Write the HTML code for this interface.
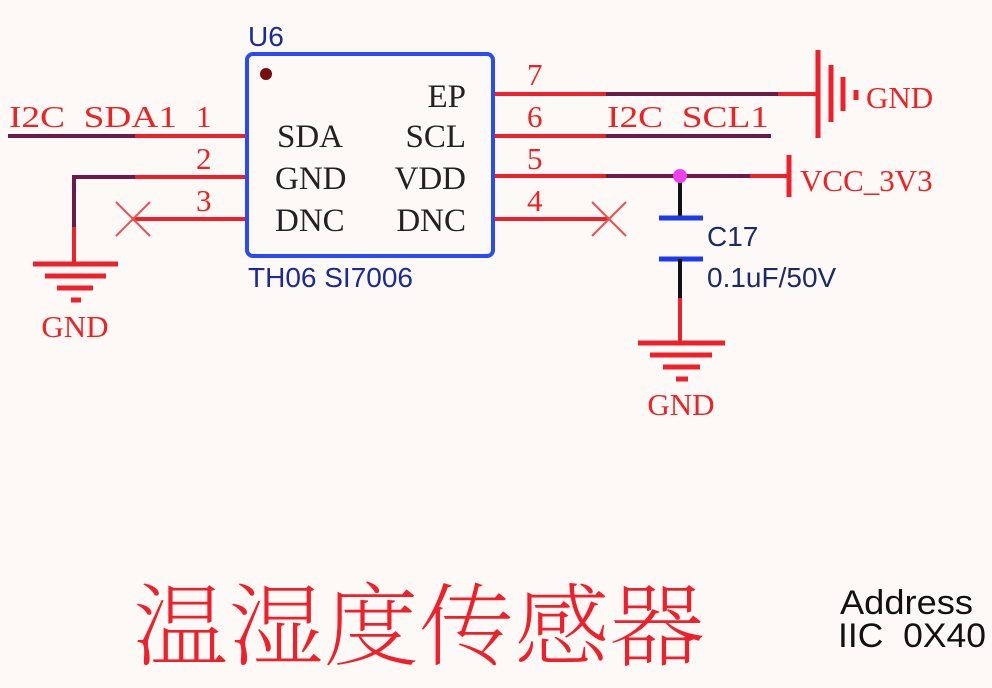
<!DOCTYPE html>
<html><head><meta charset="utf-8"><style>
html,body{margin:0;padding:0;background:#fdf9f6;}
svg{display:block}
text{white-space:pre}
.s{font-family:"Liberation Serif","Noto Serif CJK SC",serif;fill:#222;font-size:33px}
.r{font-family:"Liberation Serif",serif;fill:#ee2222;font-size:31px}
.b{font-family:"Liberation Sans",sans-serif;fill:#1a2a9a;font-size:28px}
</style></head><body>
<svg width="992" height="688" viewBox="0 0 992 688" xmlns="http://www.w3.org/2000/svg" xml:space="preserve">
<rect width="992" height="688" fill="#fdf9f6"/>
<g stroke-width="4" fill="none" stroke-linecap="butt">
<line x1="8" y1="136" x2="135" y2="136" stroke="#6b1a4a"/>
<line x1="135" y1="136" x2="247" y2="136" stroke="#f0202a"/>
<line x1="74" y1="177" x2="135" y2="177" stroke="#6b1a4a"/>
<line x1="135" y1="177" x2="247" y2="177" stroke="#f0202a"/>
<line x1="74" y1="175" x2="74" y2="227" stroke="#6b1a4a"/>
<line x1="74" y1="227" x2="74" y2="264" stroke="#f0202a"/>
<line x1="132" y1="219" x2="247" y2="219" stroke="#f0202a"/>
<g stroke="#f0202a" stroke-width="5">
<line x1="33" y1="264" x2="118" y2="264"/>
<line x1="45" y1="276" x2="106" y2="276"/>
<line x1="57" y1="288" x2="93" y2="288"/>
<line x1="71" y1="300" x2="81" y2="300"/>
</g>
<g stroke="#f05050" stroke-width="2"><line x1="116" y1="202" x2="150" y2="236"/><line x1="150" y1="202" x2="116" y2="236"/></g>
<line x1="493" y1="94" x2="606" y2="94" stroke="#f0202a"/>
<line x1="606" y1="94" x2="778" y2="94" stroke="#6b1a4a"/>
<line x1="778" y1="94" x2="818" y2="94" stroke="#f0202a"/>
<g stroke="#f0202a" stroke-width="5">
<line x1="818" y1="50" x2="818" y2="138"/>
<line x1="831" y1="65" x2="831" y2="122"/>
<line x1="843" y1="77" x2="843" y2="111"/>
<line x1="856" y1="90" x2="856" y2="100"/>
</g>
<line x1="493" y1="136" x2="606" y2="136" stroke="#f0202a"/>
<line x1="606" y1="136" x2="771" y2="136" stroke="#6b1a4a"/>
<line x1="493" y1="176" x2="606" y2="176" stroke="#f0202a"/>
<line x1="606" y1="176" x2="750" y2="176" stroke="#6b1a4a"/>
<line x1="750" y1="176" x2="789" y2="176" stroke="#f0202a"/>
<line x1="789" y1="155" x2="789" y2="197" stroke="#f0202a" stroke-width="5"/>
<line x1="493" y1="219" x2="609" y2="219" stroke="#f0202a"/>
<g stroke="#f05050" stroke-width="2"><line x1="592" y1="202" x2="626" y2="236"/><line x1="626" y1="202" x2="592" y2="236"/></g>
<line x1="680" y1="176" x2="680" y2="218" stroke="#111"/>
<line x1="659" y1="218" x2="703" y2="218" stroke="#1a3af0" stroke-width="5"/>
<line x1="659" y1="259" x2="703" y2="259" stroke="#1a3af0" stroke-width="5"/>
<line x1="680" y1="259" x2="680" y2="298" stroke="#111"/>
<line x1="680" y1="298" x2="680" y2="343" stroke="#f0202a"/>
<g stroke="#f0202a" stroke-width="5">
<line x1="638" y1="343" x2="725" y2="343"/>
<line x1="650" y1="355" x2="712" y2="355"/>
<line x1="663" y1="367" x2="700" y2="367"/>
<line x1="676" y1="379" x2="688" y2="379"/>
</g>
<rect x="247" y="54" width="246" height="202" rx="6" stroke="#2a4af5" stroke-width="4"/>
</g>
<circle cx="680" cy="176" r="7" fill="#f040f0"/>
<circle cx="266" cy="74" r="6" fill="#7a0a10"/>
<text class="b" x="248" y="46">U6</text>
<text class="b" x="248" y="287">TH06 SI7006</text>
<text class="s" x="277" y="147">SDA</text>
<text class="s" x="275" y="189">GND</text>
<text class="s" x="275" y="231">DNC</text>
<text class="s" x="466" y="107" text-anchor="end">EP</text>
<text class="s" x="466" y="147" text-anchor="end">SCL</text>
<text class="s" x="466" y="189" text-anchor="end">VDD</text>
<text class="s" x="466" y="231" text-anchor="end">DNC</text>
<text class="r" x="9" y="127" font-size="32" textLength="168" lengthAdjust="spacingAndGlyphs">I2C  SDA1</text>
<text class="r" x="196" y="127">1</text>
<text class="r" x="196" y="169">2</text>
<text class="r" x="196" y="211">3</text>
<text class="r" x="527" y="85">7</text>
<text class="r" x="527" y="127">6</text>
<text class="r" x="527" y="169">5</text>
<text class="r" x="527" y="211">4</text>
<text class="r" x="607" y="127" font-size="32" textLength="162" lengthAdjust="spacingAndGlyphs">I2C  SCL1</text>
<text class="r" x="866" y="108">GND</text>
<text class="r" x="800" y="191">VCC_3V3</text>
<text class="r" x="75" y="337" text-anchor="middle">GND</text>
<text class="r" x="681" y="415" text-anchor="middle">GND</text>
<text class="b" x="707" y="246" style="fill:#1a2a6a">C17</text>
<text class="b" x="707" y="287" style="fill:#1a2a6a">0.1uF/50V</text>
<text x="133" y="658" font-family="Noto Serif CJK SC, serif" font-weight="200" font-size="90" fill="#f0202a" textLength="572" lengthAdjust="spacingAndGlyphs">温湿度传感器</text>
<text x="840" y="614" font-family="Liberation Sans, sans-serif" font-size="34" fill="#111" textLength="133" lengthAdjust="spacingAndGlyphs">Address</text>
<text x="838" y="647" font-family="Liberation Sans, sans-serif" font-size="34" fill="#111" textLength="148" lengthAdjust="spacingAndGlyphs">IIC  0X40</text>
</svg>
</body></html>
